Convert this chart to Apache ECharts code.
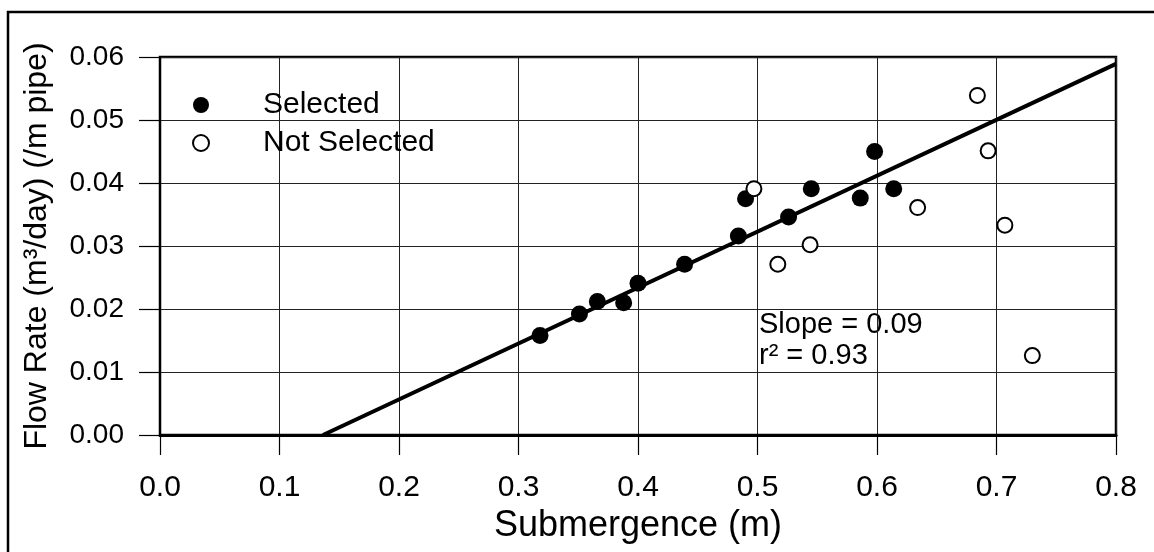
<!DOCTYPE html>
<html>
<head>
<meta charset="utf-8">
<script src="https://cdn.jsdelivr.net/npm/echarts@6/dist/echarts.min.js"></script>
<style>
html,body{margin:0;padding:0;background:#fff;}
#chart{width:1154px;height:552px;}
</style>
</head>
<body>
<div id="chart"></div>
<script>
// ---- data ----
const selectedX = [0.318, 0.351, 0.366, 0.388, 0.400, 0.439, 0.484, 0.490, 0.526, 0.545, 0.586, 0.598, 0.614];
const selectedY = [0.0158, 0.0192, 0.0212, 0.0210, 0.0241, 0.0271, 0.0316, 0.0375, 0.0346, 0.0391, 0.0376, 0.0450, 0.0391];
const notSelectedX = [0.497, 0.517, 0.544, 0.634, 0.684, 0.693, 0.707, 0.730];
const notSelectedY = [0.0391, 0.0271, 0.0302, 0.0361, 0.0539, 0.0451, 0.0333, 0.0126];
const fitX = [0.1364, 0.8];
const fitY = [0.0, 0.0589];
const xTicks = [0, 0.1, 0.2, 0.3, 0.4, 0.5, 0.6, 0.7, 0.8];
const yTicks = [0, 0.01, 0.02, 0.03, 0.04, 0.05, 0.06];
const seriesNames = ['Selected', 'Not Selected'];
const annotationLines = ['Slope = 0.09', 'r\u00B2 = 0.93'];
const xTitle = 'Submergence (m)';
const yTitle = 'Flow Rate (m\u00B3/day) (/m pipe)';

const FONT = "'Liberation Sans', Arial, Helvetica, sans-serif";
const zip = (a, b) => a.map((v, i) => [v, b[i]]);

const chart = echarts.init(document.getElementById('chart'), null, {renderer: 'canvas'});
chart.setOption({
  animation: false,
  backgroundColor: '#fff',
  textStyle: {fontFamily: FONT, color: '#000'},
  grid: {left: 160, top: 57, width: 956, height: 378, show: true, borderColor: '#000', borderWidth: 2.5, backgroundColor: 'transparent'},
  legend: {
    orient: 'vertical', left: 187, top: 85,
    itemWidth: 16, itemHeight: 16, itemGap: 8,
    textStyle: {fontFamily: FONT, fontSize: 30, color: '#000', padding: [0, 0, 0, 49]},
    data: seriesNames
  },
  xAxis: {
    type: 'value', min: xTicks[0], max: xTicks[xTicks.length - 1], interval: 0.1,
    name: xTitle, nameLocation: 'middle', nameGap: 72,
    nameTextStyle: {fontFamily: FONT, fontSize: 36, color: '#000'},
    axisLine: {show: true, onZero: false, lineStyle: {color: '#000', width: 3}},
    axisTick: {show: true, inside: false, length: 20, lineStyle: {color: '#000', width: 1.2}},
    axisLabel: {margin: 38, fontFamily: FONT, fontSize: 30, color: '#000', formatter: v => v.toFixed(1)},
    splitLine: {show: true, lineStyle: {color: '#222', width: 1}}
  },
  yAxis: {
    type: 'value', min: yTicks[0], max: yTicks[yTicks.length - 1], interval: 0.01,
    name: yTitle, nameLocation: 'middle', nameGap: 107, nameRotate: 90,
    nameTextStyle: {fontFamily: FONT, fontSize: 32, color: '#000'},
    axisLine: {show: true, lineStyle: {color: '#000', width: 2}},
    axisTick: {show: true, inside: false, length: 21, lineStyle: {color: '#000', width: 1.2}},
    axisLabel: {margin: 36, fontFamily: FONT, fontSize: 28, color: '#000', formatter: v => v.toFixed(2)},
    splitLine: {show: true, lineStyle: {color: '#222', width: 1}}
  },
  series: [
    {
      name: 'fit', type: 'line', data: zip(fitX, fitY), showSymbol: false, symbol: 'none',
      lineStyle: {color: '#000', width: 4}, z: 2, silent: true
    },
    {
      name: seriesNames[0], type: 'scatter', data: zip(selectedX, selectedY),
      symbol: 'circle', symbolSize: 17,
      itemStyle: {color: '#000', opacity: 1}, z: 3
    },
    {
      name: seriesNames[1], type: 'scatter', data: zip(notSelectedX, notSelectedY),
      symbol: 'circle', symbolSize: 15,
      itemStyle: {color: '#fff', borderColor: '#000', borderWidth: 2, opacity: 1}, z: 4
    }
  ],
  graphic: [
    {type: 'rect', silent: true, shape: {x: 8, y: 12, width: 1200, height: 600},
     style: {fill: 'none', stroke: '#000', lineWidth: 2.5}, z: -1},
    {type: 'text', silent: true, left: 759, top: 310,
     style: {text: annotationLines[0], font: '29px ' + FONT, fill: '#000'}},
    {type: 'text', silent: true, left: 759, top: 341,
     style: {text: annotationLines[1], font: '29px ' + FONT, fill: '#000'}}
  ]
});
</script>
</body>
</html>
